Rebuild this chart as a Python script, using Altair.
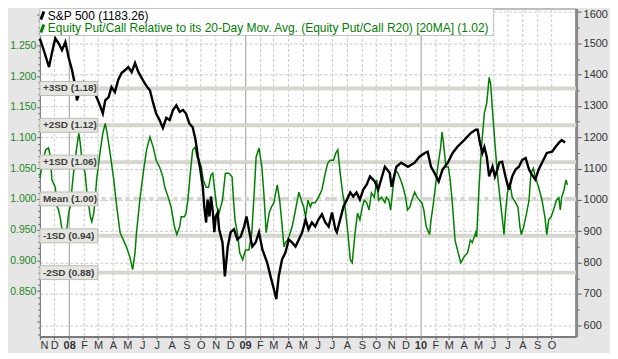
import altair as alt
import pandas as pd

START = "2007-11-01"

# S&P 500 (right axis) – days after START and close values
spx_day = [0, 8, 19, 25, 32, 39, 46, 53, 60, 67, 74, 77, 84, 91, 98, 105, 112, 118, 125, 131,
           136, 143, 149, 156, 163, 170, 177, 184, 191, 198, 205, 212, 218, 225, 229, 236, 242, 249, 256, 263,
           270, 277, 284, 291, 298, 304, 311, 318, 324, 329, 333, 339, 342, 346, 349, 353, 356, 360, 363, 366,
           370, 373, 380, 385, 391, 397, 404, 411, 418, 425, 430, 435, 442, 449, 456, 463, 473, 480, 487, 492,
           497, 504, 511, 518, 525, 532, 539, 546, 553, 559, 566, 573, 580, 587, 594, 601, 608, 615, 618, 625,
           632, 639, 646, 652, 659, 666, 673, 680, 687, 697, 704, 718, 728, 732, 742, 752, 766, 780, 790, 801,
           807, 814, 821, 830, 838, 849, 859, 869, 883, 897, 907, 911, 916, 921, 925, 930, 935, 942, 947, 952,
           956, 962, 969, 976, 983, 990, 997, 1004, 1011, 1018, 1024, 1031, 1038, 1045, 1055, 1066, 1073, 1080, 1086, 1093]
spx_val = [1515, 1478, 1424, 1469, 1516, 1500, 1478, 1504, 1453, 1414, 1360, 1318, 1350, 1373, 1344, 1366, 1350, 1328, 1302, 1276,
           1318, 1328, 1360, 1344, 1383, 1405, 1414, 1424, 1408, 1437, 1408, 1389, 1373, 1357, 1350, 1308, 1276, 1255, 1230, 1262,
           1255, 1287, 1302, 1281, 1287, 1276, 1244, 1232, 1191, 1138, 1106, 1043, 979, 928, 1001, 947, 1011, 960, 897, 947,
           960, 906, 864, 756, 851, 897, 906, 874, 883, 915, 947, 906, 851, 864, 897, 842, 800, 756, 715, 683,
           756, 810, 832, 874, 864, 851, 874, 897, 938, 906, 928, 915, 938, 954, 928, 915, 960, 906, 897, 938,
           979, 1001, 1024, 1011, 1024, 1001, 1033, 1049, 1075, 1059, 1033, 1106, 1087, 1042, 1106, 1119, 1106, 1119, 1138, 1150,
           1154, 1106, 1087, 1059, 1097, 1119, 1150, 1170, 1191, 1214, 1224, 1224, 1182, 1150, 1169, 1138, 1075, 1106, 1075, 1097,
           1119, 1122, 1075, 1033, 1075, 1097, 1106, 1128, 1134, 1097, 1081, 1065, 1097, 1119, 1150, 1154, 1169, 1182, 1191, 1183.26]

# Equity Put/Call relative to its 20-day MA (left axis)
pc_day = [0, 5, 12, 18, 22, 25, 32, 36, 39, 43, 46, 50, 56, 60, 63, 67, 70, 76, 81, 84,
          87, 91, 94, 98, 101, 105, 108, 112, 115, 118, 125, 131, 136, 140, 146, 153, 160, 167, 174, 180,
          187, 193, 198, 201, 208, 215, 222, 229, 236, 242, 249, 256, 260, 267, 273, 280, 285, 291, 294, 301,
          304, 308, 313, 318, 323, 327, 331, 336, 340, 346, 351, 356, 360, 363, 368, 373, 380, 386, 393, 400,
          403, 406, 411, 416, 422, 428, 435, 441, 446, 450, 456, 462, 466, 471, 477, 482, 487, 494, 499, 503,
          508, 511, 515, 518, 525, 532, 539, 544, 549, 553, 558, 563, 566, 573, 580, 587, 594, 599, 604, 611,
          616, 620, 625, 630, 635, 641, 646, 650, 656, 661, 666, 671, 675, 680, 685, 690, 696, 701, 705, 711,
          718, 721, 726, 730, 735, 740, 745, 751, 756, 761, 765, 770, 774, 780, 785, 790, 795, 799, 804, 811,
          814, 818, 823, 828, 834, 837, 840, 845, 850, 854, 859, 864, 869, 876, 883, 890, 896, 900, 907, 909,
          914, 919, 925, 930, 935, 938, 942, 947, 952, 958, 962, 966, 969, 973, 978, 983, 990, 995, 999, 1002,
          1007, 1013, 1018, 1022, 1027, 1031, 1038, 1045, 1051, 1055, 1059, 1064, 1069, 1075, 1080, 1083, 1086, 1091, 1095, 1098]
pc_val = [1.034, 1.058, 1.080, 1.083, 1.068, 1.031, 1.019, 0.987, 0.982, 0.966, 0.950, 0.945, 0.950, 0.977, 0.987, 1.019, 1.042, 1.080, 1.107, 1.091,
          1.068, 1.052, 1.042, 1.010, 0.994, 0.971, 0.963, 0.977, 0.998, 1.031, 1.075, 1.107, 1.123, 1.107, 1.075, 1.036, 0.987, 0.945, 0.933, 0.922,
          0.906, 0.885, 0.912, 0.945, 0.998, 1.042, 1.080, 1.101, 1.084, 1.063, 1.052, 1.036, 1.019, 1.003, 0.987, 0.955, 0.942, 0.955, 0.971, 0.971,
          0.977, 0.998, 1.042, 1.080, 1.084, 1.068, 1.063, 1.052, 1.031, 1.019, 1.019, 1.039, 1.042, 1.019, 0.987, 0.977, 0.998, 1.042, 1.042, 1.036,
          0.998, 0.966, 0.945, 0.912, 0.901, 0.917, 0.917, 0.945, 1.010, 1.068, 1.083, 1.052, 1.010, 0.945, 0.977, 0.987, 0.994, 1.023, 0.998, 0.966,
          0.922, 0.929, 0.933, 0.938, 0.955, 0.982, 1.011, 0.998, 0.987, 0.971, 0.998, 0.987, 0.994, 0.994, 1.003, 1.015, 1.042, 1.058, 1.063, 1.063,
          1.075, 1.080, 1.042, 1.010, 0.987, 0.945, 0.901, 0.896, 0.945, 0.977, 0.966, 0.987, 0.998, 0.994, 0.982, 1.010, 1.003, 1.031, 0.998, 1.003,
          0.994, 1.003, 0.998, 0.982, 1.019, 1.047, 1.042, 1.031, 1.019, 1.003, 0.982, 0.987, 0.998, 1.011, 1.003, 0.998, 0.994, 0.982, 0.955, 0.942,
          0.966, 0.987, 1.019, 1.052, 1.084, 1.109, 1.091, 1.052, 1.052, 1.031, 0.987, 0.933, 0.917, 0.896, 0.906, 0.912, 0.933, 0.929, 0.945, 0.938,
          1.019, 1.084, 1.140, 1.156, 1.198, 1.188, 1.144, 1.091, 1.042, 0.998, 0.971, 0.942, 0.977, 1.010, 1.026, 1.003, 0.994, 0.987, 0.955, 0.942,
          0.955, 0.977, 0.998, 1.042, 1.050, 1.036, 1.019, 0.998, 0.971, 0.942, 0.966, 0.971, 0.982, 0.998, 1.002, 0.982, 1.003, 1.015, 1.031, 1.023]

# Standard deviation bands
band_vals = [1.18, 1.12, 1.06, 0.94, 0.88]
box_vals = [1.18, 1.12, 1.06, 1.00, 0.94, 0.88]
box_labels = ["+3SD (1.18)", "+2SD (1.12)", "+1SD (1.06)", "Mean (1.00)", "-1SD (0.94)", "-2SD (0.88)"]
mean_val = [1.00]

legend_labels = ["S&P 500 (1183.26)",
                 "Equity Put/Call Relative to its 20-Day Mov. Avg. (Equity Put/Call R20) [20MA] (1.02)"]

X_END = "2010-11-21"
TICK_END = "2010-10-01"

start = pd.Timestamp(START)
spx = pd.DataFrame({"date": (start + pd.to_timedelta(spx_day, unit="D")).strftime("%Y-%m-%d"), "v": spx_val})
pc = pd.DataFrame({"date": (start + pd.to_timedelta(pc_day, unit="D")).strftime("%Y-%m-%d"), "v": pc_val})

ms = lambda t: int(pd.Timestamp(t).value // 10**6)
month_ticks = [ms(t) for t in pd.date_range(START, TICK_END, freq="MS")]

FONT = "Liberation Sans"
GREEN = "#008000"

is_jan = "utcmonth(datum.value) == 0"
x_enc = alt.X(
    "date:T",
    scale=alt.Scale(type="utc", domain=[ms(START), ms(X_END)]),
    axis=alt.Axis(
        title=None, values=month_ticks,
        labelExpr="utcmonth(datum.value) == 0 ? utcFormat(datum.value, '%y') : substring('JFMAMJJASOND', utcmonth(datum.value), utcmonth(datum.value) + 1)",
        labelFontWeight={"condition": {"test": is_jan, "value": "bold"}, "value": "normal"},
        labelFont=FONT, labelFontSize=11, labelColor="#333333", labelPadding=0,
        tickSize=3, tickColor="#666666", domainColor="#7a7a7a", domainWidth=2,
        grid=True,
        gridColor={"condition": {"test": is_jan, "value": "#9a9a9a"}, "value": "#c8c8c8"},
        gridDash={"condition": {"test": is_jan, "value": []}, "value": [3, 2]},
        labelOverlap=False,
    ),
)

g_dom = [0.776, 1.3101]
s_dom = [564.1, 1610.9]
g_scale = alt.Scale(domain=g_dom, nice=False, zero=False)
s_scale = alt.Scale(domain=s_dom, nice=False, zero=False)

g_ticks = [round(0.78 + 0.01 * i, 2) for i in range(53)]
is_major_g = "abs(round(datum.value * 100)) % 5 == 0"
left_axis = alt.Axis(
    orient="left", title=None, values=g_ticks, grid=False,
    labelExpr=f"({is_major_g}) && datum.value > 0.845 && datum.value < 1.255 ? format(datum.value, '.3f') : ''",
    labelFont=FONT, labelFontSize=10.5, labelColor="#1a8a1a", labelPadding=1,
    tickSize={"condition": {"test": is_major_g, "value": 3}, "value": 2},
    tickColor="#555555", domainColor="#7a7a7a", labelOverlap=False, labelBound=False,
)

s_ticks = list(range(600, 1601, 50))
is_major_s = "datum.value % 100 == 0"
right_axis = alt.Axis(
    orient="right", title=None, values=s_ticks,
    labelExpr=f"({is_major_s}) ? format(datum.value, 'd') : ''",
    labelFont=FONT, labelFontSize=11, labelColor="#333333", labelPadding=2,
    labelOffset={"condition": {"test": "datum.value >= 1600", "value": 3}, "value": 0},
    tickSize={"condition": {"test": is_major_s, "value": 5}, "value": 3},
    tickColor="#555555", domainColor="#8a8a8a", domainWidth=3,
    grid=True, gridColor="#c8c8c8", gridDash=[3, 2],
    gridOpacity={"condition": {"test": is_major_s, "value": 1}, "value": 0},
    labelOverlap=False, labelBound=False,
)

bands = alt.Chart(pd.DataFrame({"v": band_vals})).mark_rule(color="#d6d6ce", strokeWidth=4).encode(
    y=alt.Y("v:Q", scale=g_scale, axis=left_axis)
)
mean = alt.Chart(pd.DataFrame({"v": mean_val})).mark_rule(
    color="#d6d6ce", strokeWidth=4, strokeDash=[12, 4, 4, 4]
).encode(y=alt.Y("v:Q", scale=g_scale, axis=left_axis))
bg = alt.layer(bands, mean)

green_line = alt.Chart(pc).mark_line(color=GREEN, strokeWidth=1.5).encode(
    x=x_enc, y=alt.Y("v:Q", scale=g_scale, axis=None)
)
black_line = alt.Chart(spx).mark_line(color="black", strokeWidth=2.4).encode(
    x=x_enc, y=alt.Y("v:Q", scale=s_scale, axis=right_axis)
)

box_df = pd.DataFrame({"v": box_vals, "label": box_labels})
boxes = alt.Chart(box_df).mark_rect(
    fill="#e6e6e1", stroke="#bdbdb6", strokeWidth=1, yOffset=-7, y2Offset=7
).encode(
    x=alt.value(0), x2=alt.value(58),
    y=alt.Y("v:Q", scale=g_scale, axis=None), y2="v:Q",
)
box_text = alt.Chart(box_df).mark_text(
    align="left", baseline="middle", font=FONT, fontSize=10, fontWeight="bold", color="#3c3c3c"
).encode(
    x=alt.value(3), y=alt.Y("v:Q", scale=g_scale, axis=None), text="label:N"
)
labels = alt.layer(boxes, box_text)

leg_box = alt.Chart(pd.DataFrame({"k": [0]})).mark_rect(fill="white", stroke="#c4c4c4").encode(
    x=alt.value(0), x2=alt.value(455), y=alt.value(0), y2=alt.value(27)
)
leg_icon1 = alt.Chart(pd.DataFrame({"k": [0]})).mark_rule(color="black", strokeWidth=3).encode(
    x=alt.value(1), x2=alt.value(4), y=alt.value(11), y2=alt.value(3)
)
leg_icon2 = alt.Chart(pd.DataFrame({"k": [0]})).mark_rule(color=GREEN, strokeWidth=3).encode(
    x=alt.value(1), x2=alt.value(4), y=alt.value(24), y2=alt.value(16)
)
leg_t1 = alt.Chart(pd.DataFrame({"t": [legend_labels[0]]})).mark_text(
    align="left", baseline="middle", font=FONT, fontSize=12, color="black"
).encode(x=alt.value(8), y=alt.value(7), text="t:N")
leg_t2 = alt.Chart(pd.DataFrame({"t": [legend_labels[1]]})).mark_text(
    align="left", baseline="middle", font=FONT, fontSize=12, color=GREEN
).encode(x=alt.value(8), y=alt.value(20), text="t:N")
legend = alt.layer(leg_box, leg_icon1, leg_icon2, leg_t1, leg_t2)

chart = alt.layer(bg, green_line, black_line, labels, legend).resolve_scale(y="independent").properties(
    width=538, height=329,
    autosize=alt.AutoSizeParams(type="none"),
    padding={"left": 32, "top": 0, "right": 34, "bottom": 16},
).configure(background="#e6e6e6").configure_view(stroke="#8a8a8a", strokeWidth=1, fill="white")

chart.save("out.html", embed_options={"renderer": "svg", "actions": False})
